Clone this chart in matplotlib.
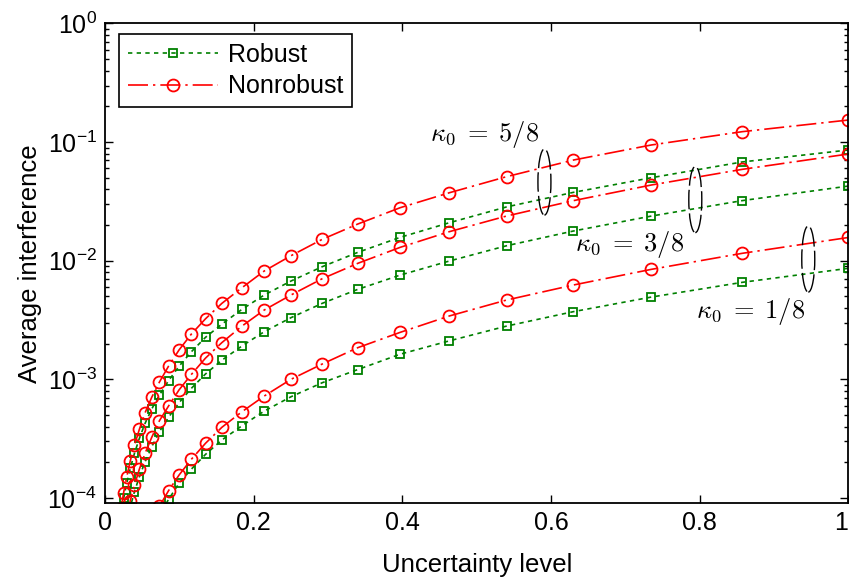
import matplotlib
matplotlib.use("Agg")
import matplotlib.pyplot as plt
from matplotlib.patches import Ellipse

plt.rcParams['font.family'] = ['Liberation Sans', 'DejaVu Sans']
plt.rcParams['mathtext.fontset'] = 'cm'

# Uncertainty levels (shared abscissa, from largest to smallest)
uncertainty = [1.0, 0.857, 0.735, 0.630, 0.540, 0.463, 0.397, 0.340, 0.292,
               0.250, 0.214, 0.184, 0.157, 0.135, 0.116, 0.0994, 0.0852,
               0.0730, 0.0626, 0.0537, 0.0460, 0.0394, 0.0338, 0.0290,
               0.0248, 0.0213]

# Average interference, kappa0 = 5/8
nonrobust_5 = [0.1535, 0.1224, 0.0946, 0.0706, 0.0511, 0.0374, 0.0280, 0.0204,
               0.01514, 0.01102, 0.00819, 0.00592, 0.00437, 0.00324, 0.00241,
               0.00177, 0.00129, 0.000949, 0.000705, 0.000523, 0.000379,
               0.000279, 0.000206, 0.000151, 0.000111, 0.000080]
robust_5 = [0.0858, 0.0680, 0.0501, 0.0377, 0.0284, 0.0209, 0.01575, 0.01177,
            0.00890, 0.00674, 0.00514, 0.00389, 0.00292, 0.00226, 0.00171,
            0.00129, 0.000973, 0.000737, 0.000562, 0.000426, 0.000318,
            0.000238, 0.000178, 0.000133, 0.0000990, 0.0000730]

# Average interference, kappa0 = 3/8
nonrobust_3 = [0.0794, 0.0589, 0.0435, 0.0321, 0.0238, 0.01757, 0.01297,
               0.00951, 0.00705, 0.00514, 0.00384, 0.00281, 0.00204, 0.00151,
               0.00110, 0.000815, 0.000595, 0.000448, 0.000324, 0.000238,
               0.000175, 0.000128, 0.0000950, 0.0000700]
robust_3 = [0.0426, 0.0321, 0.0238, 0.0178, 0.01337, 0.00994, 0.00757, 0.00574,
            0.00437, 0.00331, 0.00252, 0.00191, 0.00145, 0.00111, 0.00084,
            0.000635, 0.000478, 0.000362, 0.000270, 0.000202, 0.000151,
            0.000113, 0.0000840]

# Average interference, kappa0 = 1/8
nonrobust_1 = [0.0157, 0.01154, 0.00846, 0.00624, 0.00466, 0.00342, 0.00249,
               0.00185, 0.001346, 0.00100, 0.000723, 0.000533, 0.000394,
               0.000289, 0.000212, 0.000156, 0.000115, 0.0000850]
robust_1 = [0.00863, 0.00657, 0.00494, 0.00372, 0.00281, 0.00211, 0.00163,
            0.00121, 0.000936, 0.000713, 0.00054, 0.000406, 0.000308,
            0.000233, 0.000175, 0.000133, 0.0000970, 0.0000720]

x_tick_labels = ['0', '0.2', '0.4', '0.6', '0.8', '1']
kappa_labels = [r'$\kappa_0\;=\;5/8$', r'$\kappa_0\;=\;3/8$', r'$\kappa_0\;=\;1/8$']
kappa_label_pos = [(0.51, 0.1148), (0.705, 0.01383), (0.869, 0.00373)]
bracket_pos = [(0.591, 0.0461), (0.794, 0.0328), (0.946, 0.01033)]

GREEN = (0.0, 0.5, 0.0)
RED = (1.0, 0.0, 0.0)

fig = plt.figure(figsize=(8.49, 5.77), dpi=100)
ax = fig.add_axes([0.1239, 0.1282, 0.8754, 0.8311])

robust_style = dict(color=GREEN, lw=1.2, linestyle=(0, (2.6, 2.6)), marker='s',
                    markersize=5.8, markerfacecolor='none', markeredgewidth=1.3,
                    markeredgecolor=GREEN)
nonrobust_style = dict(color=RED, lw=1.2, linestyle=(0, (12, 3, 1.4, 3)), marker='o',
                       markersize=8.6, markerfacecolor='none', markeredgewidth=1.3,
                       markeredgecolor=RED)

pairs = [(robust_5, nonrobust_5), (robust_3, nonrobust_3), (robust_1, nonrobust_1)]
for i, (rob, nonrob) in enumerate(pairs):
    ax.plot(uncertainty[:len(rob)], rob, label='Robust' if i == 0 else None,
            **robust_style)
    ax.plot(uncertainty[:len(nonrob)], nonrob, label='Nonrobust' if i == 0 else None,
            **nonrobust_style)

ax.set_yscale('log')
ax.set_xlim(0, 1)
ax.set_ylim(9.06e-5, 1)
ax.set_xticks([0, 0.2, 0.4, 0.6, 0.8, 1])
ax.set_xticklabels(x_tick_labels)
ax.get_xticklabels()[-1].set_horizontalalignment('right')
ax.set_yticks([1e-4, 1e-3, 1e-2, 1e-1, 1])

ax.tick_params(which='both', direction='in', top=True, right=True,
               labelsize=18, width=1.0, color='black')
ax.tick_params(which='major', length=6, pad=6)
ax.tick_params(which='minor', length=3)
ax.tick_params(axis='x', which='minor', bottom=False, top=False)
for sp in ax.spines.values():
    sp.set_linewidth(1.3)

ax.set_xlabel('Uncertainty level', fontsize=18.5, labelpad=13)
ax.set_ylabel('Average interference', fontsize=18.5, labelpad=4)

# Kappa annotations with bracketing ellipses
for text, (tx, ty) in zip(kappa_labels, kappa_label_pos):
    ax.text(tx, ty, text, fontsize=19, ha='center', va='center')

for (bx, by) in bracket_pos:
    cx, cy = ax.transAxes.inverted().transform(ax.transData.transform((bx, by)))
    ax.add_patch(Ellipse((cx, cy), 0.0175, 0.138, transform=ax.transAxes,
                         fill=False, edgecolor='black', lw=1.0,
                         linestyle=(0, (14, 3)), zorder=5))

leg = ax.legend(loc='upper left', fontsize=18, handlelength=3.6, handletextpad=0.4,
                borderpad=0.35, labelspacing=0.3, borderaxespad=0, fancybox=False,
                framealpha=1, edgecolor='black', bbox_to_anchor=(0.019, 0.978))
leg.get_frame().set_linewidth(1.2)

fig.savefig('out.png', dpi=100)
